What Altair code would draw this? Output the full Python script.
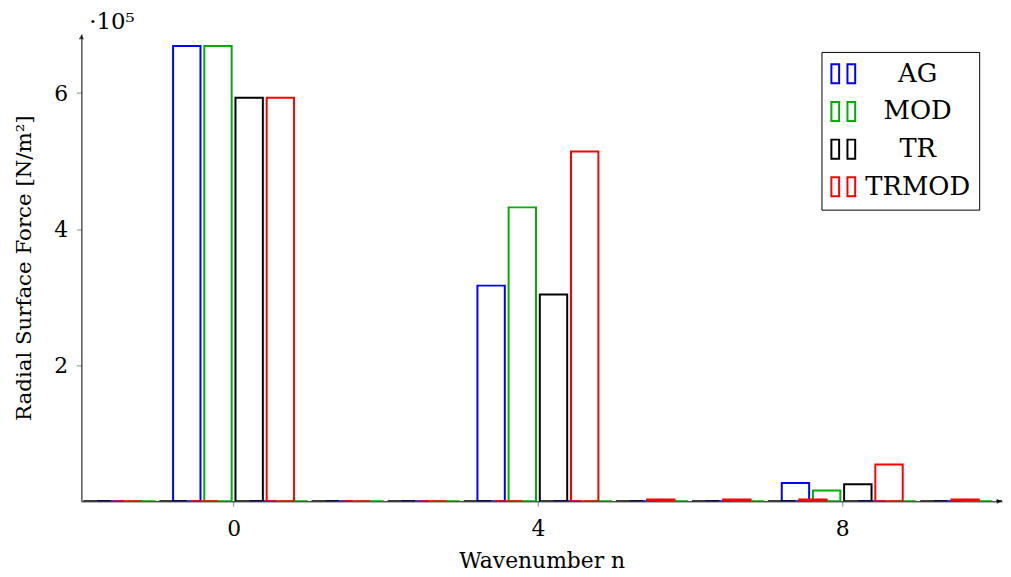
import altair as alt
import pandas as pd

# ---- data ----
wavenumbers = list(range(-2, 11))
series_names = ["AG", "MOD", "TR", "TRMOD"]
ag    = [0, 0, 669000, 0, 0, 0, 317000, 0, 0, 0, 27000, 0, 0]
mod   = [0, 0, 669000, 0, 0, 0, 432000, 0, 0, 0, 16000, 0, 0]
tr    = [0, 0, 593000, 0, 0, 0, 304000, 0, 0, 0, 25000, 0, 0]
trmod = [0, 0, 593000, 0, 0, 0, 514000, 2500, 2500, 2500, 54000, 2500, 0]
series_values = [ag, mod, tr, trmod]
colors = ["#0000ff", "#00b000", "#000000", "#ff0000"]
x_ticks = [0, 4, 8]
y_ticks = [200000, 400000, 600000]

rows = []
for si, (name, vals) in enumerate(zip(series_names, series_values)):
    for n, v in zip(wavenumbers, vals):
        rows.append({"n": n, "series": name, "idx": si, "value": v})
df = pd.DataFrame(rows)

FONT = "DejaVu Serif"
W, H = 928, 471
XDOM = [-2, 10.1]
YDOM = [0, 686700]

xscale = alt.Scale(domain=XDOM, nice=False, zero=False)
yscale = alt.Scale(domain=YDOM, nice=False)

legend_icon = ("M-1,-0.8L-0.35,-0.8L-0.35,0.8L-1,0.8Z "
               "M0.35,-0.8L1,-0.8L1,0.8L0.35,0.8Z")

bars = alt.Chart(df).transform_calculate(
    off="(datum.idx - 1.5) * 0.41",
    x0="datum.n + datum.off - 0.18",
    x1="datum.n + datum.off + 0.18",
).mark_bar(filled=False, strokeWidth=2, clip=True).encode(
    x=alt.X("x0:Q", scale=xscale,
            axis=alt.Axis(values=x_ticks, title="Wavenumber n", grid=False,
                          labelFont=FONT, labelFontSize=22, titleFont=FONT,
                          titleFontSize=22, titleFontWeight="normal",
                          tickColor="#888888", tickSize=5, domainColor="black",
                          labelPadding=12, titlePadding=12, labelColor="black")),
    x2="x1:Q",
    y=alt.Y("value:Q", scale=yscale,
            axis=alt.Axis(values=y_ticks, title="Radial Surface Force [N/m²]",
                          labelExpr="format(datum.value / 100000, 'd')",
                          grid=False, labelFont=FONT, labelFontSize=22,
                          titleFont=FONT, titleFontSize=21.5,
                          titleFontWeight="normal", tickColor="#888888",
                          tickSize=5, domainColor="black", labelPadding=9,
                          titlePadding=18, labelColor="black")),
    y2=alt.datum(0),
    stroke=alt.Stroke("series:N",
                      scale=alt.Scale(domain=series_names, range=colors),
                      legend=alt.Legend(title=None, orient="none",
                                        legendX=746, legendY=18,
                                        symbolType=legend_icon, symbolSize=576,
                                        symbolStrokeWidth=2, symbolFillColor="white",
                                        labelFont=FONT, labelFontSize=26,
                                        labelAlign="center", labelOffset=62,
                                        rowPadding=10, padding=9,
                                        strokeColor="black", fillColor="white",
                                        labelColor="black")),
    order=alt.Order("idx:Q"),
)

y_arrow = alt.Chart(pd.DataFrame({"a": [0]})).mark_point(
    shape="triangle-up", filled=True, color="black", size=28
).encode(x=alt.value(0), y=alt.value(3))

x_arrow = alt.Chart(pd.DataFrame({"a": [0]})).mark_point(
    shape="triangle-right", filled=True, color="black", size=28
).encode(x=alt.value(W - 3), y=alt.value(H))

exponent = alt.Chart(pd.DataFrame({"a": [0]})).mark_text(
    text="·10⁵", font=FONT, fontSize=23, align="left", baseline="alphabetic",
    color="black"
).encode(x=alt.value(8), y=alt.value(-5))

chart = alt.layer(bars, y_arrow, x_arrow, exponent).properties(
    width=W, height=H,
    autosize=alt.AutoSizeParams(type="none"),
    padding={"left": 74, "top": 24, "right": 1, "bottom": 72},
).configure_view(stroke=None).configure_axis(domainWidth=1)

chart.save("out.html", embed_options={"renderer": "svg", "actions": False})
